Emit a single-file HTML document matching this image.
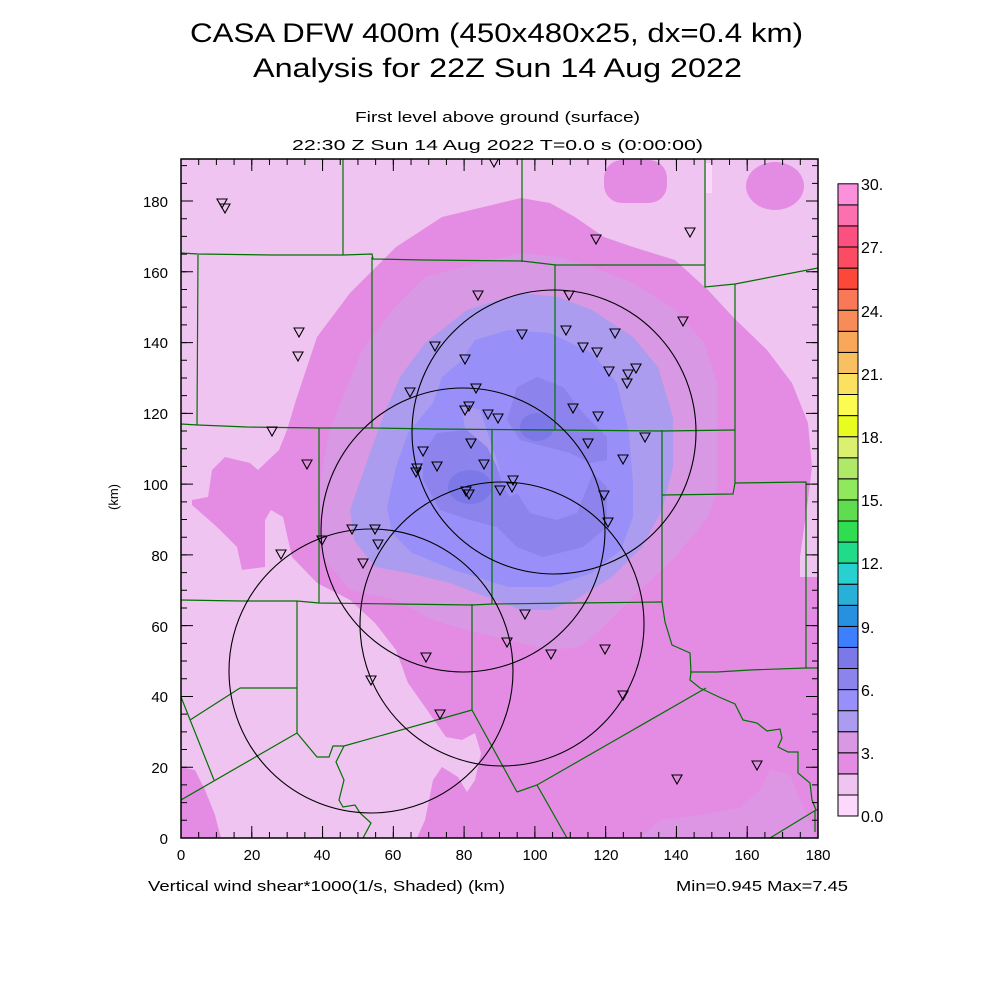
<!DOCTYPE html>
<html><head><meta charset="utf-8"><style>
html,body{margin:0;padding:0;background:#fff;}
svg{display:block;}
text{font-family:"Liberation Sans",sans-serif;fill:#000;}
</style></head><body>
<svg width="1000" height="1000" viewBox="0 0 1000 1000" xmlns="http://www.w3.org/2000/svg">
<defs><clipPath id="pc"><rect x="181" y="159" width="637" height="679"/></clipPath></defs>
<rect width="1000" height="1000" fill="#fff"/>
<text x="190" y="42" font-size="27" textLength="613" lengthAdjust="spacingAndGlyphs">CASA DFW 400m (450x480x25, dx=0.4 km)</text>
<text x="253" y="77" font-size="27" textLength="489" lengthAdjust="spacingAndGlyphs">Analysis for 22Z Sun 14 Aug 2022</text>
<text x="355" y="122" font-size="15" textLength="285" lengthAdjust="spacingAndGlyphs">First level above ground (surface)</text>
<text x="292" y="150" font-size="15" textLength="411" lengthAdjust="spacingAndGlyphs">22:30 Z Sun 14 Aug 2022    T=0.0 s (0:00:00)</text>

<g clip-path="url(#pc)">
<rect x="181" y="159" width="637" height="679" fill="#f0c4f0"/>
<!-- 2-3 -->
<path fill="#e48ce4" d="M521,198 L550,203 575,217 604,237 633,247 675,260 708,290 733,317 767,350 792,383 808,423 812,467 808,500 800,557 800,577 818,577 818,838 417,838 425,820 433,780 442,767 458,777 467,792 475,780 481,753 475,733 462,740 446,737 425,707 408,683 396,650 375,623 350,600 317,583 292,557 283,517 271,510 265,520 265,567 242,570 237,547 217,527 192,505 192,500 208,497 212,470 225,457 250,463 258,470 279,450 287,430 296,400 317,337 350,293 396,247 442,217 Z"/>
<path fill="#e48ce4" d="M181,767 L195,770 205,790 215,815 221,838 181,838 Z"/>
<rect x="604" y="160" width="63" height="43" rx="18" fill="#e48ce4"/>
<ellipse cx="775" cy="186" rx="29" ry="24" fill="#e48ce4"/>
<rect x="706" y="163" width="6" height="30" fill="#fcd8fc"/>
<path fill="#dc96e4" d="M640,838 L660,820 700,815 740,808 760,790 770,770 790,775 800,800 816,838 Z"/>
<!-- 3-4 -->
<path fill="#d898e4" d="M521,253 L558,257 592,267 633,283 675,310 704,343 717,383 717,450 717,490 708,517 675,557 633,597 600,630 579,647 550,650 508,640 467,630 433,620 396,600 350,590 323,557 319,490 329,433 342,400 362,350 392,310 425,277 Z"/>
<!-- 4-5 -->
<path fill="#ac9cf0" d="M521,293 L558,297 592,310 633,337 658,367 673,417 673,467 662,510 642,547 612,577 575,600 550,610 521,610 487,597 450,583 408,573 375,567 354,540 350,510 371,450 383,417 400,377 425,343 467,310 Z"/>
<!-- 5-6 -->
<path fill="#9890f8" d="M508,330 L550,333 592,353 617,383 629,433 633,483 633,517 621,550 592,573 550,587 508,587 454,570 412,553 392,533 387,507 396,467 408,433 433,403 442,377 462,360 475,340 Z"/>
<path fill="#ac9cf0" d="M462,405 L480,410 490,440 500,470 490,480 475,455 465,430 Z"/>
<!-- 6-7 -->
<path fill="#8c84ec" d="M517,387 L537,377 563,387 583,413 607,437 607,460 590,463 570,453 547,447 520,440 507,420 513,400 Z"/>
<path fill="#8c84ec" d="M423,453 L437,433 467,430 487,447 497,467 503,487 510,497 517,493 530,513 557,520 577,513 593,473 607,487 607,527 583,547 543,557 517,547 497,527 470,520 440,510 423,480 Z"/>
<!-- 7-8 -->
<ellipse cx="537" cy="427" rx="17" ry="14" fill="#7c78e8"/>
<ellipse cx="470" cy="487" rx="22" ry="17" fill="#7c78e8"/>

<!-- county lines -->
<g fill="none" stroke="#007000" stroke-width="1.2">
<path d="M343,159 V255 M181,253 L198,254 273,255 343,255 372,254 373,259 424,260 522,261 556,265 705,265"/>
<path d="M522,159 V262 M705,159 V287 L735,284 818,268 M735,284 V483 L806,482 V668 L818,668"/>
<path d="M198,255 L197,425 M181,424 L198,425 247,427 319,428 372,428 433,429 555,430 662,431 735,430"/>
<path d="M372,257 V428 M555,265 V430 M319,428 V603 M492,430 V604 M662,430 V602 M662,495 L733,494 735,483"/>
<path d="M181,600 L240,601 297,601 319,603 396,604 472,605 492,604 575,603 662,602"/>
<path d="M297,601 V733 M472,604 V710"/>
<path d="M662,602 L665,622 672,645 690,653 691,672 690,680 700,688 719,697 735,704 743,720 757,723 767,731 780,729 782,738 778,747 788,752 798,752 798,773 810,783 812,800 816,810 818,810"/>
<path d="M690,672 L717,672 750,670 806,668"/>
<path d="M706,688 L537,785 517,792 M472,710 L517,792 M537,785 L567,838"/>
<path d="M472,710 L344,746 333,746 329,757 317,757 297,733 M344,746 L336,762 344,780 339,800 343,807 355,805 360,813 371,823 363,838"/>
<path d="M297,733 L181,800 M240,688 L297,688 M240,688 L190,720 M181,697 L214,780 M770,838 L816,810 M815,810 V832"/>
</g>
<!-- range circles -->
<g fill="none" stroke="#000" stroke-width="1.1">
<circle cx="554" cy="432" r="142"/>
<circle cx="463" cy="530" r="142"/>
<circle cx="502" cy="624" r="142"/>
<circle cx="371" cy="671" r="142"/>
</g>
<!-- stations -->
<g fill="none" stroke="#000" stroke-width="1.1" id="st">
<path d="M217,199h10l-5,9z M220,204h10l-5,9z M591,235h10l-5,9z M685,228h10l-5,9z M294,328h10l-5,9z M293,352h10l-5,9z M473,291h10l-5,9z M564,291h10l-5,9z M678,317h10l-5,9z M517,330h10l-5,9z M561,326h10l-5,9z M610,329h10l-5,9z M578,343h10l-5,9z M592,348h10l-5,9z M430,342h10l-5,9z M460,355h10l-5,9z M604,367h10l-5,9z M623,370h10l-5,9z M631,364h10l-5,9z M622,379h10l-5,9z M405,388h10l-5,9z M471,384h10l-5,9z M460,406h10l-5,9z M464,402h10l-5,9z M483,410h10l-5,9z M493,414h10l-5,9z M568,404h10l-5,9z M593,412h10l-5,9z M267,427h10l-5,9z M302,460h10l-5,9z M466,439h10l-5,9z M583,439h10l-5,9z M618,455h10l-5,9z M640,433h10l-5,9z M418,447h10l-5,9z M432,462h10l-5,9z M411,468h10l-5,9z M412,464h10l-5,9z M479,460h10l-5,9z M508,476h10l-5,9z M507,483h10l-5,9z M461,487h10l-5,9z M464,490h10l-5,9z M495,486h10l-5,9z M599,491h10l-5,9z M603,518h10l-5,9z M317,536h10l-5,9z M276,550h10l-5,9z M347,525h10l-5,9z M370,525h10l-5,9z M373,540h10l-5,9z M358,559h10l-5,9z M520,610h10l-5,9z M502,638h10l-5,9z M421,653h10l-5,9z M546,650h10l-5,9z M600,645h10l-5,9z M618,691h10l-5,9z M366,676h10l-5,9z M435,710h10l-5,9z M672,775h10l-5,9z M752,761h10l-5,9z M489,158h10l-5,9z"/>
</g>
</g>

<!-- frame and ticks -->
<g stroke="#000" fill="none">
<line x1="181" y1="835" x2="818" y2="835" stroke-width="6" stroke-dasharray="1 16.694" transform="translate(-0.5,0)"/>
<line x1="181" y1="832" x2="818" y2="832" stroke-width="12" stroke-dasharray="1 69.776" transform="translate(-0.5,0)"/>
<line x1="181" y1="162" x2="818" y2="162" stroke-width="6" stroke-dasharray="1 16.694" transform="translate(-0.5,0)"/>
<line x1="181" y1="165" x2="818" y2="165" stroke-width="12" stroke-dasharray="1 69.776" transform="translate(-0.5,0)"/>
<line x1="184" y1="838.5" x2="184" y2="159" stroke-width="6" stroke-dasharray="1 16.694"/>
<line x1="187" y1="838.5" x2="187" y2="159" stroke-width="12" stroke-dasharray="1 69.776"/>
<line x1="815" y1="838.5" x2="815" y2="159" stroke-width="6" stroke-dasharray="1 16.694"/>
<line x1="812" y1="838.5" x2="812" y2="159" stroke-width="12" stroke-dasharray="1 69.776"/>
<rect x="181" y="159" width="637" height="679" stroke-width="1.5"/>
</g>

<!-- axis labels -->
<g font-size="15" text-anchor="end">
<text x="168" y="844">0</text><text x="168" y="773">20</text><text x="168" y="702">40</text><text x="168" y="632">60</text><text x="168" y="561">80</text><text x="168" y="490">100</text><text x="168" y="419">120</text><text x="168" y="348">140</text><text x="168" y="278">160</text><text x="168" y="207">180</text>
</g>
<g font-size="15" text-anchor="middle">
<text x="181" y="860">0</text><text x="252" y="860">20</text><text x="322" y="860">40</text><text x="393" y="860">60</text><text x="464" y="860">80</text><text x="535" y="860">100</text><text x="606" y="860">120</text><text x="676" y="860">140</text><text x="747" y="860">160</text><text x="818" y="860">180</text>
</g>
<text x="0" y="0" font-size="13" text-anchor="middle" transform="translate(118,497) rotate(-90)">(km)</text>
<text x="148" y="891" font-size="15" textLength="357" lengthAdjust="spacingAndGlyphs">Vertical wind shear*1000(1/s, Shaded)  (km)</text>
<text x="676" y="891" font-size="15" textLength="172" lengthAdjust="spacingAndGlyphs">Min=0.945 Max=7.45</text>

<!-- colorbar -->
<g stroke="#000" stroke-width="1">
<rect x="838" y="794.9" width="20" height="21.1" fill="#fcd8fc"/>
<rect x="838" y="773.9" width="20" height="21.1" fill="#f0c4f0"/>
<rect x="838" y="752.8" width="20" height="21.1" fill="#e48ce4"/>
<rect x="838" y="731.7" width="20" height="21.1" fill="#d898e4"/>
<rect x="838" y="710.6" width="20" height="21.1" fill="#ac9cf0"/>
<rect x="838" y="689.6" width="20" height="21.1" fill="#9890f8"/>
<rect x="838" y="668.5" width="20" height="21.1" fill="#8c84ec"/>
<rect x="838" y="647.4" width="20" height="21.1" fill="#7c78e8"/>
<rect x="838" y="626.3" width="20" height="21.1" fill="#3c80ff"/>
<rect x="838" y="605.3" width="20" height="21.1" fill="#2890e0"/>
<rect x="838" y="584.2" width="20" height="21.1" fill="#28b0d8"/>
<rect x="838" y="563.1" width="20" height="21.1" fill="#28d0d0"/>
<rect x="838" y="542.0" width="20" height="21.1" fill="#20dc88"/>
<rect x="838" y="521.0" width="20" height="21.1" fill="#30dc50"/>
<rect x="838" y="499.9" width="20" height="21.1" fill="#60dc50"/>
<rect x="838" y="478.8" width="20" height="21.1" fill="#90e85c"/>
<rect x="838" y="457.7" width="20" height="21.1" fill="#b0e868"/>
<rect x="838" y="436.7" width="20" height="21.1" fill="#dcf070"/>
<rect x="838" y="415.6" width="20" height="21.1" fill="#e8fc20"/>
<rect x="838" y="394.5" width="20" height="21.1" fill="#fcfc50"/>
<rect x="838" y="373.4" width="20" height="21.1" fill="#fce060"/>
<rect x="838" y="352.4" width="20" height="21.1" fill="#f8c060"/>
<rect x="838" y="331.3" width="20" height="21.1" fill="#f8a858"/>
<rect x="838" y="310.2" width="20" height="21.1" fill="#f88c58"/>
<rect x="838" y="289.1" width="20" height="21.1" fill="#f87858"/>
<rect x="838" y="268.1" width="20" height="21.1" fill="#fc4838"/>
<rect x="838" y="247.0" width="20" height="21.1" fill="#fc4c64"/>
<rect x="838" y="225.9" width="20" height="21.1" fill="#fc5080"/>
<rect x="838" y="204.8" width="20" height="21.1" fill="#fc70b0"/>
<rect x="838" y="183.8" width="20" height="21.1" fill="#fc90dc"/>
</g>
<g font-size="16">
<text x="861" y="822">0.0</text><text x="861" y="759">3.</text><text x="861" y="696">6.</text><text x="861" y="633">9.</text><text x="861" y="569">12.</text><text x="861" y="506">15.</text><text x="861" y="443">18.</text><text x="861" y="380">21.</text><text x="861" y="317">24.</text><text x="861" y="253">27.</text><text x="861" y="190">30.</text>
</g>
</svg>
</body></html>
